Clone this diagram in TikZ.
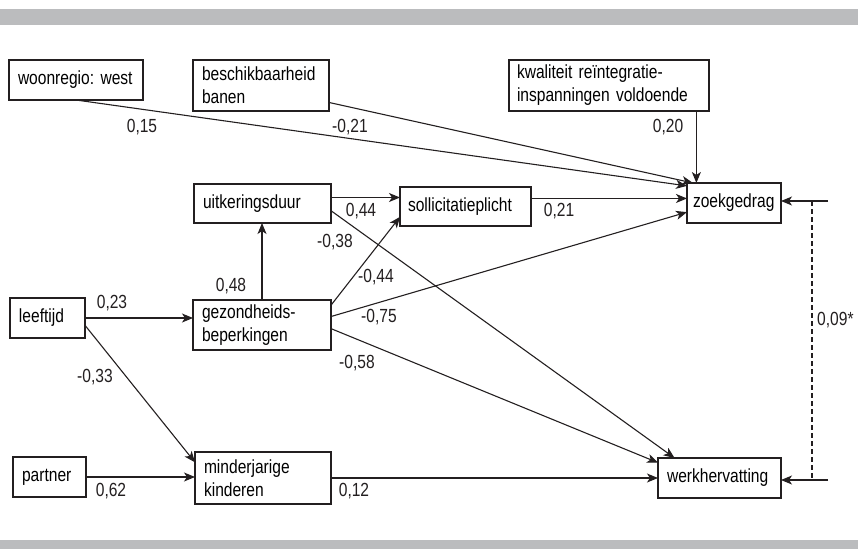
\documentclass[tikz,border=0pt]{standalone}
\usepackage{fontspec}
\setmainfont{Liberation Sans}[FakeStretch=0.82]
\usetikzlibrary{arrows.meta}
\definecolor{bandgrijs}{HTML}{BBBCBE}
\definecolor{lijnzwart}{HTML}{231F20}
\frenchspacing

\begin{document}
\begin{tikzpicture}[x=1pt,y=-1pt,
    vak/.style={draw=lijnzwart,line width=1.3pt,inner xsep=9pt,inner ysep=2pt,outer sep=0pt,
      anchor=north west,align=left,font=\fontsize{19}{23}\selectfont},
    pijl/.style={-{Stealth[length=11pt,width=9pt,inset=3pt]},line width=1.1pt,draw=lijnzwart},
    coef/.style={font=\fontsize{19}{23}\selectfont,inner sep=0pt,text=lijnzwart}]
    \useasboundingbox (0,0) rectangle (860,549);
    \fill[bandgrijs] (0,9) rectangle (858,25);
    \fill[bandgrijs] (0,540) rectangle (858,549);

    \node[vak,text width=116pt,minimum height=40pt] (woon) at (9,60) {woonregio: west};
    \node[vak,text width=118pt,minimum height=51pt] (besch) at (193,60) {beschikbaarheid\\banen};
    \node[vak,text width=184pt,inner xsep=8pt,minimum height=51pt] (kwal) at (509,60) {kwaliteit reïntegratie-\\inspanningen voldoende};
    \node[vak,text width=82pt,inner xsep=6pt,minimum height=40pt] (zoek) at (687,183) {zoekgedrag};
    \node[vak,text width=115pt,inner xsep=8pt,minimum height=39pt] (soll) at (400,187) {sollicitatieplicht};
    \node[vak,text width=119pt,minimum height=39pt] (uitk) at (194,184) {uitkeringsduur};
    \node[vak,text width=57pt,minimum height=40pt] (leef) at (10,298) {leeftijd};
    \node[vak,text width=120pt,minimum height=50pt] (gez) at (193,300) {gezondheids-\\beperkingen};
    \node[vak,text width=55pt,minimum height=40pt] (partner) at (13,457) {partner};
    \node[vak,text width=118pt,minimum height=52pt] (mind) at (195,452) {minderjarige\\kinderen};
    \node[vak,text width=105pt,minimum height=40pt] (werk) at (658,458) {werkhervatting};

    \coordinate (rz) at (828,201);
    \coordinate (rw) at (828,480);
    \coordinate (dz) at (812,201);
    \coordinate (dw) at (812,480);

    \draw[pijl] (woon.south) -- (zoek.160);
    \draw[pijl] (besch.-14) -- (zoek.154);
    \draw[pijl] (zoek.152 |- kwal.south) -- (zoek.152);
    \draw[pijl] (soll.7) -- (soll.7 -| zoek.west);
    \draw[pijl] (uitk.5) -- (uitk.5 -| soll.west);
    \draw[pijl] (uitk.-6) -- (werk.156);
    \draw[pijl] (gez.north) -- (gez.north |- uitk.south);
    \draw[pijl] (gez.16) -- (soll.189);
    \draw[pijl] (gez.7) -- (zoek.191);
    \draw[pijl] (gez.-3) -- (werk.166);
    \draw[pijl] (leef.east) -- (leef.east -| gez.west);
    \draw[pijl] (leef.-11) -- (mind.167);
    \draw[pijl] (partner.east) -- (partner.east -| mind.west);
    \draw[pijl] (mind.east) -- (mind.east -| werk.west);
    \draw[pijl] (rz) -- (rz -| zoek.east);
    \draw[pijl] (rw) -- (rw -| werk.east);
    \draw[line width=1.1pt,lijnzwart,dash pattern=on 5pt off 3pt] (dz) -- (dw);

    \node[coef] (c015) at (142,127) {0,15};
    \node[coef] (c021a) at (350,127) {-0,21};
    \node[coef] (c020) at (668,127) {0,20};
    \node[coef] (c044a) at (361,211) {0,44};
    \node[coef] (c021b) at (559,211) {0,21};
    \node[coef] (c038) at (335,242) {-0,38};
    \node[coef] (c048) at (231,286) {0,48};
    \node[coef] (c023) at (112,303) {0,23};
    \node[coef] (c044b) at (376,277) {-0,44};
    \node[coef] (c075) at (379,317) {-0,75};
    \node[coef] (c058) at (357,363) {-0,58};
    \node[coef] (c033) at (95,377) {-0,33};
    \node[coef] (c062) at (111,491) {0,62};
    \node[coef] (c012) at (354,491) {0,12};
    \node[coef,anchor=west] (c009) at (817,320) {0,09*};
\end{tikzpicture}
\end{document}
